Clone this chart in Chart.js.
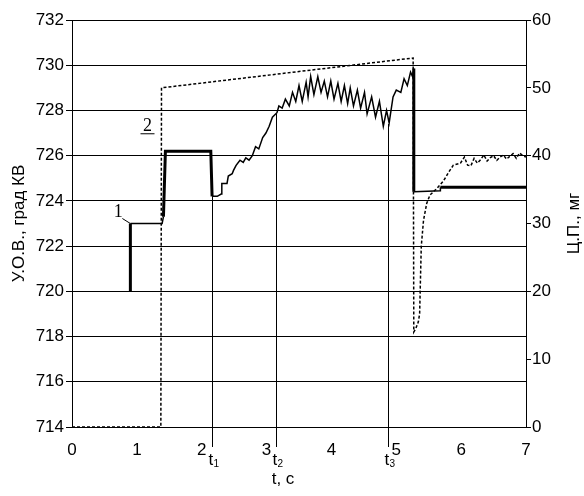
<!DOCTYPE html>
<html>
<head>
<meta charset="utf-8">
<script src="https://cdn.jsdelivr.net/npm/chart.js@4.4.1/dist/chart.umd.min.js"></script>
<style>
  body { margin: 0; background: #fff; }
  canvas { display: block; }
</style>
</head>
<body>
<canvas id="chart" width="584" height="496"></canvas>
<script>
// curve 1: У.О.В. (left axis, град КВ)
const uovTime = [0.9, 0.9, 1.39, 1.41, 1.44, 2.14, 2.16, 2.24, 2.30, 2.31, 2.39, 2.41, 2.47, 2.49, 2.53,
  2.59, 2.64, 2.68, 2.73, 2.78, 2.83, 2.88, 2.94, 2.99, 3.04, 3.09, 3.16, 3.19, 3.24, 3.29, 3.35,
  3.40, 3.45, 3.50, 3.55, 3.61, 3.64, 3.68, 3.73, 3.79, 3.84, 3.89, 3.94, 3.99, 4.04, 4.10, 4.15,
  4.20, 4.25, 4.29, 4.34, 4.40, 4.45, 4.51, 4.55, 4.62, 4.68, 4.74, 4.80, 4.85, 4.89, 4.95, 5.00,
  5.07, 5.12, 5.17, 5.22, 5.25, 5.27, 5.27, 5.68, 5.68, 7.0];
const uovValue = [720, 723, 723, 723.3, 726.2, 726.2, 724.2, 724.2, 724.3, 724.77, 724.77, 725.1, 725.2, 725.35, 725.57,
  725.8, 725.7, 725.9, 725.8, 726.0, 726.4, 726.3, 726.8, 727.0, 727.3, 727.7, 727.9, 728.2, 728.1, 728.5, 728.2,
  728.8, 728.4, 729.1, 728.4, 729.25, 728.6, 729.5, 728.7, 729.5, 728.8, 729.3, 728.6, 729.3, 728.5, 729.2, 728.4,
  729.1, 728.3, 729.0, 728.2, 728.9, 728.1, 728.8, 727.85, 728.6, 727.7, 728.4, 727.3, 728.0, 727.45, 728.6, 728.9,
  728.8, 729.4, 729.1, 729.7, 729.5, 729.85, 724.4, 724.45, 724.6, 724.6];

// curve 2: Ц.П. (right axis, мг)
const cpTime = [0, 1.37, 1.38, 5.26, 5.27, 5.30, 5.34, 5.36, 5.385, 5.42, 5.47, 5.52, 5.63, 5.73, 5.81,
  5.88, 5.99, 6.05, 6.1, 6.15, 6.2, 6.25, 6.3, 6.35, 6.4, 6.45, 6.5, 6.55, 6.6, 6.65, 6.7,
  6.75, 6.8, 6.85, 6.9, 6.95, 7.0];
const cpValue = [0, 0, 50, 54.4, 14, 14.5, 15.5, 16.7, 26.6, 30.5, 33, 34.2, 35.2, 36.3, 37.6,
  38.6, 38.9, 39.8, 38.6, 38.5, 39.6, 38.9, 39.4, 40.1, 39.2, 39.7, 40.0, 39.3, 39.8, 40.1, 39.5,
  39.9, 40.3, 39.6, 40.4, 40.0, 39.8];

// time markers t1, t2, t3
const markerTimes = [2.16, 3.15, 4.87];
const markerTops = [724.2, 727.85, 727.4];
const markerLabels = ["1", "2", "3"];

const font = "'Liberation Sans', Arial, sans-serif";

function toPoints(xs, ys) {
  return xs.map(function (x, i) {
    return { x: x, y: ys[i] };
  });
}

// steps and long flats are drawn heavy, the rest thin
function uovWidth(ctx) {
  const dx = Math.abs(ctx.p1.parsed.x - ctx.p0.parsed.x);
  const dy = Math.abs(ctx.p1.parsed.y - ctx.p0.parsed.y);
  if (dx < 0.05 && dy > 1.5) return 3;
  if (dy === 0 && dx > 0.5) return 3;
  return 1.5;
}

const overlay = {
  id: "overlay",
  afterDraw(chart) {
    const c = chart.ctx;
    const xs = chart.scales.x;
    const yl = chart.scales.y;
    const area = chart.chartArea;
    c.save();
    c.strokeStyle = "#000";
    c.fillStyle = "#000";
    c.lineWidth = 1;

    // marker lines down past the axis + labels
    markerTimes.forEach(function (t, i) {
      const px = Math.round(xs.getPixelForValue(t)) + 0.5;
      c.beginPath();
      c.moveTo(px, yl.getPixelForValue(markerTops[i]));
      c.lineTo(px, area.bottom + 20);
      c.stroke();
      c.textBaseline = "middle";
      c.textAlign = "left";
      c.font = "17px " + font;
      c.fillText("t", px - 4, area.bottom + 33);
      c.font = "10px " + font;
      c.fillText(markerLabels[i], px + 1, area.bottom + 37);
    });

    // x axis title
    c.font = "17px " + font;
    c.textAlign = "center";
    c.fillText("t, c", 283, area.bottom + 52);

    // y axis titles, both read bottom to top
    c.save();
    c.translate(19, (area.top + area.bottom) / 2);
    c.rotate(-Math.PI / 2);
    c.fillText("У.О.В., град КВ", 0, 0);
    c.restore();
    c.save();
    c.translate(574, (area.top + area.bottom) / 2);
    c.rotate(-Math.PI / 2);
    c.fillText("Ц.П., мг", 0, 0);
    c.restore();

    // curve numbers
    c.font = "18px 'Liberation Serif', 'Times New Roman', serif";
    const ax = xs.getPixelForValue(0.9);
    const ay = yl.getPixelForValue(723);
    c.fillText("1", ax - 12, ay - 11);
    c.beginPath();
    c.moveTo(ax - 8, ay - 5);
    c.lineTo(ax, ay);
    c.stroke();
    const bx = xs.getPixelForValue(1.38);
    const by = yl.getPixelForValue(727.3);
    c.fillText("2", bx - 14, by);
    c.beginPath();
    c.moveTo(bx - 21, by + 7.5);
    c.lineTo(bx - 7, by + 7.5);
    c.stroke();
    c.restore();
  }
};

const ctx = document.getElementById("chart").getContext("2d");
const myChart = new Chart(ctx, {
  type: "line",
  data: {
    datasets: [
      {
        label: "У.О.В.",
        data: toPoints(uovTime, uovValue),
        yAxisID: "y",
        borderColor: "#000",
        borderWidth: 1.5,
        pointRadius: 0,
        tension: 0,
        segment: { borderWidth: uovWidth },
      },
      {
        label: "Ц.П.",
        data: toPoints(cpTime, cpValue),
        yAxisID: "y2",
        borderColor: "#000",
        borderWidth: 1.5,
        borderDash: [3, 2],
        pointRadius: 0,
        tension: 0,
      },
    ],
  },
  options: {
    responsive: false,
    animation: false,
    layout: { padding: { top: 20, left: 0, right: 0, bottom: 0 } },
    plugins: { legend: { display: false }, tooltip: { enabled: false } },
    scales: {
      x: {
        type: "linear",
        min: 0,
        max: 7,
        ticks: { stepSize: 1, color: "#000", padding: 5, font: { family: font, size: 17 } },
        grid: { display: false },
        border: { display: true, color: "#000", width: 1 },
        afterFit: function (s) { s.height = 69; },
      },
      y: {
        position: "left",
        min: 714,
        max: 732,
        ticks: { stepSize: 2, color: "#000", padding: 2, font: { family: font, size: 17 } },
        grid: { color: "#000", lineWidth: 1, tickLength: 6 },
        border: { display: true, color: "#000", width: 1 },
        afterFit: function (s) { s.width = 72; },
      },
      y2: {
        position: "right",
        min: 0,
        max: 60,
        ticks: { stepSize: 10, color: "#000", padding: 1, font: { family: font, size: 17 } },
        grid: { drawOnChartArea: false, color: "#000", lineWidth: 1, tickLength: 5 },
        border: { display: true, color: "#000", width: 1 },
        afterFit: function (s) { s.width = 58; },
      },
    },
  },
  plugins: [overlay],
});
</script>
</body>
</html>
